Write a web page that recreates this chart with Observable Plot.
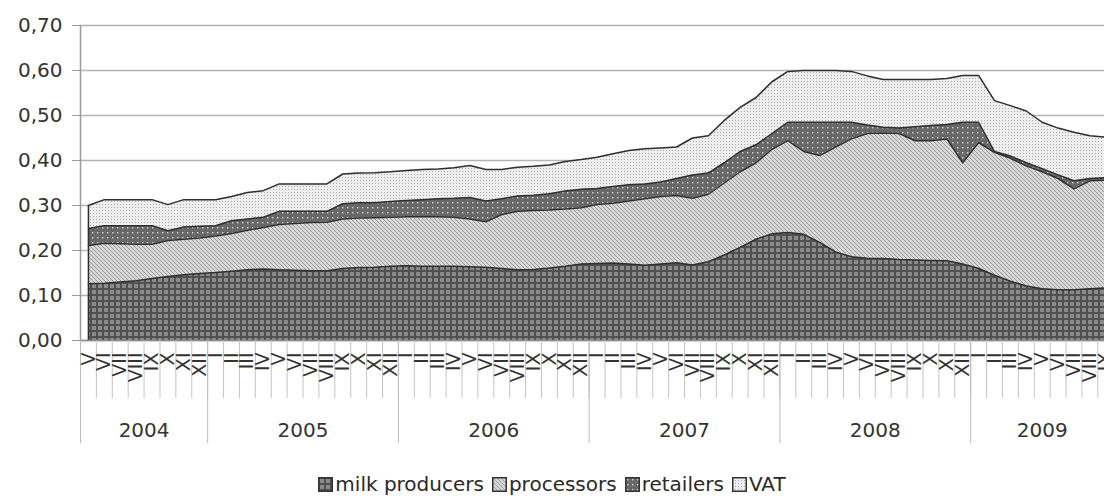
<!DOCTYPE html>
<html>
<head>
<meta charset="utf-8">
<script src="https://cdn.jsdelivr.net/npm/d3@7"></script>
<script src="https://cdn.jsdelivr.net/npm/@observablehq/plot@0.6"></script>
<style>
  body { margin: 0; background: #fff; width: 1104px; height: 499px; overflow: hidden; font-family: "DejaVu Sans", Verdana, sans-serif; }
  #chart svg { display: block; }
  #legend { position: absolute; left: 0; top: 471px; width: 1104px; text-align: center; font-size: 20px; color: #2a2a2a; white-space: nowrap; line-height: 26px; }
  #legend .item { display: inline-block; margin: 0 4px; }
  #legend svg { vertical-align: -1px; margin-right: 2px; }
</style>
</head>
<body>
<svg width="0" height="0" style="position:absolute">
  <defs>
    <pattern id="pMilk" width="6" height="6" patternUnits="userSpaceOnUse">
      <rect width="6" height="6" fill="#8a8a8a"/>
      <rect width="6" height="2" fill="#505050"/>
      <rect width="2" height="6" fill="#505050"/>
    </pattern>
    <pattern id="pProc" width="4" height="4" patternUnits="userSpaceOnUse">
      <rect width="4" height="4" fill="#d8d8d8"/>
      <path d="M-1,-1 L5,5 M-1,3 L1,5 M3,-1 L5,1" stroke="#9a9a9a" stroke-width="1"/>
    </pattern>
    <pattern id="pRet" width="5" height="5" patternUnits="userSpaceOnUse">
      <rect width="5" height="5" fill="#686868"/>
      <rect x="2" y="2" width="1.4" height="1.4" fill="#d8d8d8"/>
    </pattern>
    <pattern id="pVat" width="3" height="3" patternUnits="userSpaceOnUse">
      <rect width="3" height="3" fill="#eeeeee"/>
      <rect width="1" height="1" fill="#a8a8a8"/>
    </pattern>
  </defs>
</svg>
<div id="chart"></div>
<div id="legend"></div>
<script>
// Months: May 2004 .. Sep 2009
const startYear = 2004;
const startMonth = 5;
const seriesNames = ["milk producers", "processors", "retailers", "VAT"];
const patterns = ["url(#pMilk)", "url(#pProc)", "url(#pRet)", "url(#pVat)"];

const milkProducers = [
  0.126, 0.127, 0.130, 0.133, 0.138, 0.142, 0.146, 0.149,
  0.151, 0.154, 0.157, 0.159, 0.157, 0.156, 0.155, 0.155, 0.160, 0.162, 0.163, 0.165,
  0.166, 0.165, 0.165, 0.165, 0.164, 0.163, 0.160, 0.157, 0.158, 0.161, 0.165, 0.170,
  0.171, 0.172, 0.170, 0.167, 0.170, 0.173, 0.168, 0.175, 0.190, 0.207, 0.225, 0.237,
  0.240, 0.236, 0.218, 0.197, 0.186, 0.183, 0.182, 0.180, 0.179, 0.178, 0.177, 0.170,
  0.160, 0.145, 0.132, 0.121, 0.115, 0.113, 0.113, 0.115, 0.117
];
const processors = [
  0.085, 0.089, 0.085, 0.081, 0.076, 0.080, 0.079, 0.079,
  0.081, 0.084, 0.088, 0.092, 0.101, 0.104, 0.107, 0.108, 0.110, 0.110, 0.110, 0.109,
  0.109, 0.110, 0.110, 0.109, 0.106, 0.101, 0.120, 0.130, 0.131, 0.129, 0.127, 0.125,
  0.131, 0.133, 0.140, 0.148, 0.150, 0.149, 0.148, 0.150, 0.160, 0.168, 0.170, 0.188,
  0.204, 0.184, 0.193, 0.233, 0.262, 0.277, 0.279, 0.280, 0.265, 0.266, 0.271, 0.225,
  0.280, 0.273, 0.273, 0.267, 0.260, 0.247, 0.224, 0.240, 0.239
];
const retailers = [
  0.038, 0.039, 0.040, 0.041, 0.041, 0.022, 0.027, 0.026,
  0.023, 0.028, 0.025, 0.023, 0.029, 0.027, 0.025, 0.024, 0.034, 0.034, 0.033, 0.035,
  0.036, 0.038, 0.040, 0.042, 0.048, 0.046, 0.035, 0.034, 0.034, 0.036, 0.040, 0.041,
  0.036, 0.037, 0.036, 0.033, 0.032, 0.038, 0.052, 0.047, 0.045, 0.045, 0.040, 0.035,
  0.041, 0.065, 0.074, 0.055, 0.037, 0.019, 0.013, 0.012, 0.031, 0.034, 0.032, 0.090,
  0.045, 0.002, 0.005, 0.007, 0.007, 0.008, 0.018, 0.005, 0.006
];
const vat = [
  0.051, 0.058, 0.058, 0.058, 0.058, 0.058, 0.061, 0.059,
  0.058, 0.054, 0.059, 0.059, 0.061, 0.061, 0.061, 0.061, 0.066, 0.066, 0.067, 0.066,
  0.067, 0.067, 0.066, 0.068, 0.071, 0.070, 0.065, 0.064, 0.064, 0.064, 0.066, 0.066,
  0.069, 0.073, 0.076, 0.078, 0.076, 0.070, 0.082, 0.083, 0.094, 0.098, 0.105, 0.115,
  0.113, 0.115, 0.115, 0.115, 0.113, 0.109, 0.106, 0.108, 0.105, 0.102, 0.102, 0.104,
  0.104, 0.113, 0.112, 0.115, 0.103, 0.104, 0.108, 0.095, 0.090
];
const yTicks = [0, 0.1, 0.2, 0.3, 0.4, 0.5, 0.6, 0.7];
const roman = ["I","II","III","IV","V","VI","VII","VIII","IX","X","XI","XII"];

const seriesValues = [milkProducers, processors, retailers, vat];
const n = milkProducers.length;

const months = d3.range(n).map(i => {
  const abs = startMonth - 1 + i;
  return { i, year: startYear + Math.floor(abs / 12), label: roman[abs % 12] };
});
const years = d3.groups(months, d => d.year).map(([year, ms]) => ({
  year: String(year), center: (ms[0].i + ms[ms.length - 1].i) / 2, start: ms[0].i - 0.5
}));
const monthBounds = months.map(d => d.i - 0.5).concat([n - 0.5]);
const yearBounds = years.map(d => d.start);

const rows = [];
seriesNames.forEach((s, k) => seriesValues[k].forEach((v, i) => rows.push({ i, series: s, value: v, fill: patterns[k] })));
const firstTotal = d3.sum(seriesValues, arr => arr[0]);

const fmt = d => d.toFixed(2).replace(".", ",");

const chart = Plot.plot({
  width: 1104,
  height: 468,
  marginLeft: 80,
  marginRight: 0,
  marginTop: 25,
  marginBottom: 128,
  style: { fontFamily: "DejaVu Sans, Verdana, sans-serif", background: "#fff", color: "#333" },
  x: { type: "linear", domain: [-0.5, 63.92], axis: null },
  y: { domain: [0, 0.7], axis: null },
  color: { type: "identity" },
  marks: [
    Plot.gridY(yTicks, { stroke: "#b4b4b4", strokeOpacity: 1, strokeWidth: 1.5 }),
    Plot.areaY(rows, { x: "i", y: "value", z: "series", fill: "fill", clip: true }),
    Plot.lineY(rows, Plot.stackY2({ x: "i", y: "value", z: "series", stroke: "#2e2e2e", strokeWidth: 1.5, clip: true })),
    Plot.ruleX([0], { y1: 0, y2: firstTotal, stroke: "#2e2e2e", strokeWidth: 1.5 }),
    Plot.ruleX([-0.5], { stroke: "#9a9a9a", strokeWidth: 1.5 }),
    Plot.ruleY([0], { stroke: "#8a8a8a", strokeWidth: 1.5 }),
    Plot.axisY(yTicks, { anchor: "left", tickSize: 8, tickPadding: 10, tickFormat: fmt, fontSize: 20, stroke: "#9a9a9a", fill: "#333", label: null }),
    Plot.axisX(monthBounds, { anchor: "bottom", tickSize: 58, tickFormat: () => "", stroke: "#c4c4c4", label: null }),
    Plot.axisX(yearBounds, { anchor: "bottom", tickSize: 103, tickFormat: () => "", stroke: "#bcbcbc", label: null }),
    Plot.text(months, { x: "i", text: "label", frameAnchor: "bottom", dy: 12, rotate: -90, textAnchor: "end", lineAnchor: "middle", fontSize: 19, fill: "#333", letterSpacing: 1.5 }),
    Plot.text(years, { x: "center", text: "year", frameAnchor: "bottom", dy: 90, lineAnchor: "middle", fontSize: 20, fill: "#333" })
  ]
});
document.getElementById("chart").appendChild(chart);

const legend = document.getElementById("legend");
seriesNames.forEach((s, k) => {
  const item = document.createElement("span");
  item.className = "item";
  item.innerHTML = `<svg width="15" height="15"><rect x="0.75" y="0.75" width="13.5" height="13.5" fill="${patterns[k]}" stroke="#333" stroke-width="1.5"/></svg>${s}`;
  legend.appendChild(item);
});
</script>
</body>
</html>
